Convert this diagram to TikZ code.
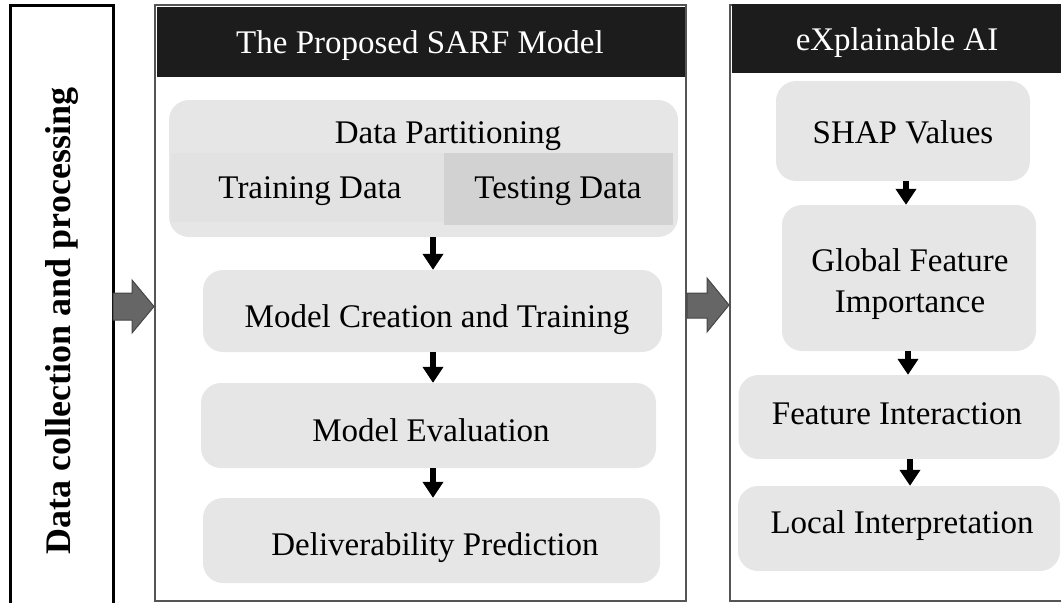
\documentclass[tikz,border=0pt]{standalone}
\usepackage{fontspec}
\setmainfont{Liberation Serif}
\usetikzlibrary{arrows.meta,calc}
\definecolor{boxfill}{RGB}{230,230,230}
\definecolor{stripfill}{RGB}{226,226,226}
\definecolor{testfill}{RGB}{210,210,210}
\definecolor{frame}{RGB}{85,85,85}
\definecolor{headfill}{RGB}{28,28,28}
\definecolor{blockarrow}{RGB}{102,102,102}
\definecolor{blockedge}{RGB}{70,70,70}
\tikzset{
  stage/.style={rounded corners=20pt, fill=boxfill, draw=none, inner sep=0pt},
  label/.style={inner sep=0pt, align=center, font=\fontsize{33}{41}\selectfont},
  flow/.style={line width=5.5pt, -{Triangle[width=20pt,length=16pt]}},
  bigarrow/.style={fill=blockarrow, draw=blockedge, line width=1pt},
  panel/.style={draw=frame, line width=2.5pt},
  header/.style={fill=headfill, draw=none}
}
\begin{document}
\begin{tikzpicture}[x=1pt,y=-1pt]
\useasboundingbox (0,0) rectangle (1061,603);

% left column: data collection
\draw[line width=3pt] (10,603) -- (10,5) -- (113,5) -- (113,603);
\node[rotate=90, font=\fontsize{36}{40}\selectfont\bfseries, inner sep=0pt] (collect) at (62,321)
  {Data collection and processing};

% middle panel
\draw[panel] (155,5) rectangle (686,601);
\fill[header] (156.5,6.5) rectangle (684.5,77);
\node[label, text=white] (sarf) at (420,46) {The Proposed SARF Model};

\node[stage, minimum width=509pt, minimum height=137pt] (part) at (423.5,168.5) {};
\fill[stripfill] (171,153) rectangle (444,222);
\fill[testfill] (444,153) rectangle (673,225);
\node[label] (parttitle) at (448,136) {Data Partitioning};
\node[label] (train) at (310,191) {Training Data};
\node[label] (test) at (558,191) {Testing Data};

\node[stage, minimum width=459pt, minimum height=82pt] (create) at (432.5,311) {};
\node[stage, minimum width=455pt, minimum height=85pt] (eval) at (428.5,425.5) {};
\node[stage, minimum width=457pt, minimum height=85pt] (deliver) at (431.5,540.5) {};
\node[label] (createtxt) at (437,320) {Model Creation and Training};
\node[label] (evaltxt) at (431,430) {Model Evaluation};
\node[label] (delivertxt) at (435,548) {Deliverability Prediction};

\draw[flow] (part.south -| 433,0) -- (create.north -| 433,0);
\draw[flow] (create.south -| 433,0) -- (eval.north -| 433,0);
\draw[flow] (eval.south -| 433,0) -- (deliver.north -| 433,0);

% right panel: explainable AI
\draw[panel] (1064,601) -- (730,601) -- (730,5) -- (1064,5);
\fill[header] (732,4) rectangle (1061,73);
\node[label, text=white] (xai) at (897,43) {eXplainable AI};

\node[stage, minimum width=254pt, minimum height=100pt] (shap) at (903,131) {};
\node[stage, minimum width=254pt, minimum height=146pt] (global) at (909,278) {};
\node[stage, minimum width=321pt, minimum height=84pt] (inter) at (899,417) {};
\node[stage, minimum width=322pt, minimum height=85pt] (local) at (899,528.5) {};
\node[label] (shaptxt) at (903,132) {SHAP Values};
\node[label] (globaltxt) at (910,284) {Global Feature\\Importance};
\node[label] (intertxt) at (897,414) {Feature Interaction};
\node[label] (localtxt) at (902,526) {Local Interpretation};

\draw[flow] (shap.south -| 906,0) -- (global.north -| 906,0);
\draw[flow] (global.south -| 908,0) -- (inter.north -| 908,0);
\draw[flow] (inter.south -| 910,0) -- (local.north -| 910,0);

% block arrows between the panels
\draw[bigarrow] (113,293) -- (132,293) -- (132,280) -- (154,306.5) -- (132,333)
  -- (132,320) -- (113,320) -- cycle;
\draw[bigarrow] (687,293) -- (707,293) -- (707,278) -- (729,305) -- (707,332)
  -- (707,318) -- (687,318) -- cycle;
\end{tikzpicture}
\end{document}
